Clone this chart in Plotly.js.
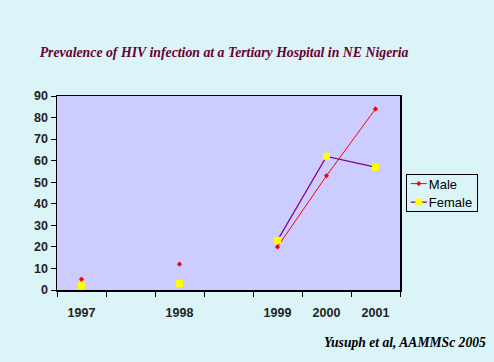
<!DOCTYPE html>
<html>
<head>
<meta charset="utf-8">
<script src="https://cdn.plot.ly/plotly-3.0.1.min.js"></script>
<style>
  html, body { margin: 0; padding: 0; background: #DAF4F8; }
  #chart { width: 494px; height: 362px; }
</style>
</head>
<body>
<div id="chart"></div>
<script>
// Categories (blank slots separate the early years from the later ones)
var categories = ['1997', ' ', '1998', '  ', '1999', '2000', '2001'];
var maleValues = [5, null, 12, null, 20, 53, 84];
var femaleValues = [2, null, 3, null, 23, 62, 57];
var seriesNames = ['Male', 'Female'];
var titleText = 'Prevalence of HIV infection at a Tertiary Hospital in NE Nigeria';
var sourceText = 'Yusuph et al, AAMMSc 2005';

var traces = [
  {
    x: categories, y: maleValues, name: seriesNames[0],
    type: 'scatter', mode: 'lines+markers', connectgaps: false,
    line: { color: '#FF0000', width: 1 },
    marker: { color: '#FF0000', symbol: 'diamond', size: 4 }
  },
  {
    x: categories, y: femaleValues, name: seriesNames[1],
    type: 'scatter', mode: 'lines+markers', connectgaps: false,
    line: { color: '#800080', width: 1.2 },
    marker: { color: '#FFFF00', symbol: 'square', size: 7, line: { width: 0 } }
  }
];

var tickFont = { family: '"Liberation Sans", Arial, sans-serif', size: 12.5, color: '#222' };

var layout = {
  width: 494, height: 362,
  paper_bgcolor: '#DAF4F8',
  plot_bgcolor: '#CCCCFF',
  margin: { l: 57, r: 94, t: 96, b: 72, autoexpand: false },
  title: {
    text: '<b><i>' + titleText + '</i></b>',
    font: { family: '"Liberation Serif", "Times New Roman", serif', size: 13.8, color: '#660033' },
    x: 0.487, xanchor: 'center', y: 0.855, yanchor: 'middle', xref: 'paper', yref: 'container'
  },
  xaxis: {
    type: 'category',
    categoryorder: 'array', categoryarray: categories,
    range: [-0.5, 6.5],
    tickson: 'boundaries',
    ticks: 'outside', ticklen: 5, tickwidth: 1, tickcolor: '#000',
    showline: true, linecolor: '#000', linewidth: 1.5, mirror: true,
    showgrid: false, zeroline: false,
    ticklabelstandoff: 10,
    tickfont: tickFont,
    tickprefix: '<b>', ticksuffix: '</b>'
  },
  yaxis: {
    range: [0, 90], dtick: 10, tick0: 0,
    ticks: 'outside', ticklen: 5, tickwidth: 1, tickcolor: '#000',
    showline: true, linecolor: '#000', linewidth: 1.5, mirror: true,
    showgrid: false, zeroline: false,
    tickfont: tickFont,
    tickprefix: '<b>', ticksuffix: '</b>'
  },
  showlegend: true,
  legend: {
    x: 1.017, xanchor: 'left', y: 0.6, yanchor: 'top',
    bgcolor: '#DAF4F8', bordercolor: '#000', borderwidth: 1,
    font: { family: '"Liberation Sans", Arial, sans-serif', size: 13, color: '#000' },
    itemwidth: 30, tracegroupgap: 0
  },
  annotations: [
    {
      text: '<b><i>' + sourceText + '</i></b>',
      xref: 'paper', yref: 'paper', x: 1.257, y: -0.273,
      xanchor: 'right', yanchor: 'middle', showarrow: false,
      font: { family: '"Liberation Serif", "Times New Roman", serif', size: 13.6, color: '#000' }
    }
  ]
};

Plotly.newPlot('chart', traces, layout, { displayModeBar: false, staticPlot: true }).then(function (gd) {
  // Compact the legend keys to match the original's narrow legend box
  var leg = gd.querySelector('.legend');
  if (!leg) return;
  var items = leg.querySelectorAll('.traces');
  var maxText = 0;
  items.forEach(function (t, i) {
    t.setAttribute('transform', 'translate(1,' + (10 + 18.5 * i) + ')');
    var line = t.querySelector('.legendlines path');
    if (line) line.setAttribute('d', 'M4,0h16');
    t.querySelectorAll('.legendpoints path').forEach(function (p) {
      p.setAttribute('transform', 'translate(12,0)');
    });
    var txt = t.querySelector('text.legendtext');
    if (txt) {
      txt.setAttribute('x', 22);
      maxText = Math.max(maxText, txt.getBBox().width);
    }
  });
  var bg = leg.querySelector('rect.bg');
  if (bg) {
    bg.setAttribute('width', Math.round(22 + maxText + 6));
    bg.setAttribute('height', 37);
  }
});
</script>
</body>
</html>
